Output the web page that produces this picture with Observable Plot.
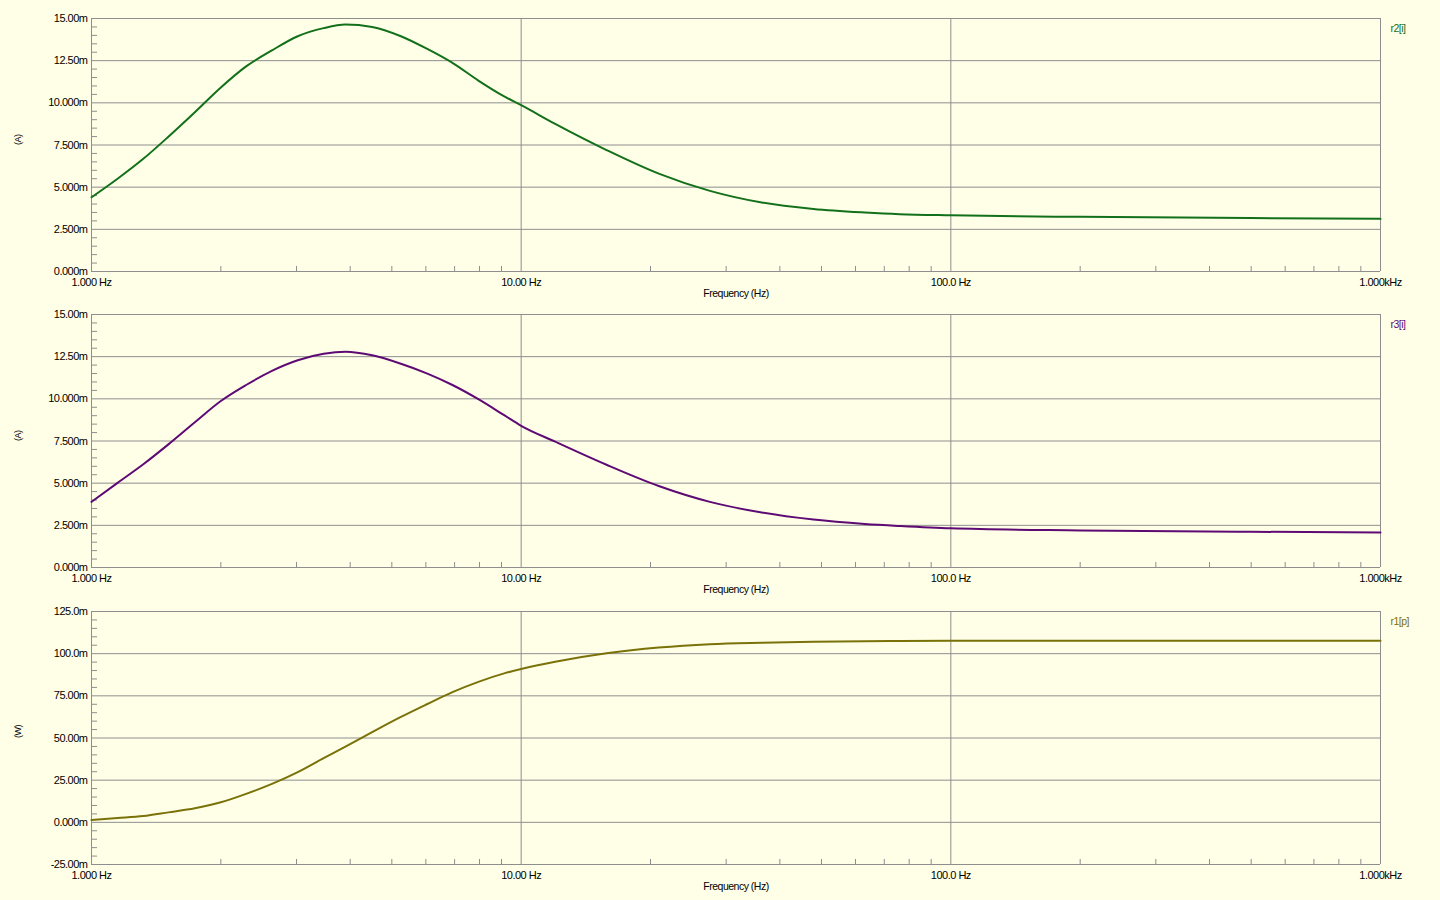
<!DOCTYPE html>
<html>
<head>
<meta charset="utf-8">
<script src="https://cdn.jsdelivr.net/npm/d3@7"></script>
<script src="https://cdn.jsdelivr.net/npm/@observablehq/plot@0.6"></script>
<style>
  html, body { margin: 0; padding: 0; background: #FFFFE8; }
  #chart { position: relative; width: 1440px; height: 900px; background: #FFFFE8; overflow: hidden; }
  #chart svg { position: absolute; left: 0; display: block; }
  #chart svg text { letter-spacing: -0.5px; }
</style>
</head>
<body>
<div id="chart"></div>
<script>
// ---- data ----
const frequency = [1, 1.15, 1.32, 1.51, 1.74, 2, 2.29, 2.63, 3.02, 3.47, 3.9, 4.5, 5.25, 6.03, 6.92, 7.95, 9.13, 10, 12, 15.8, 20.9, 27.5, 36.3, 47.9, 63.1, 76, 100, 200, 500, 1000];
// r2[i] current, mA
const r2Current = [4.40, 5.50, 6.68, 7.99, 9.44, 10.91, 12.16, 13.11, 13.95, 14.43, 14.64, 14.50, 13.95, 13.21, 12.37, 11.32, 10.38, 9.86, 8.75, 7.20, 5.80, 4.78, 4.09, 3.71, 3.50, 3.40, 3.33, 3.24, 3.17, 3.12];
// r3[i] current, mA
const r3Current = [3.89, 5.02, 6.12, 7.30, 8.61, 9.87, 10.82, 11.66, 12.29, 12.67, 12.79, 12.58, 12.08, 11.51, 10.82, 9.98, 9.03, 8.40, 7.46, 6.09, 4.83, 3.89, 3.26, 2.84, 2.58, 2.46, 2.32, 2.20, 2.12, 2.07];
// r1[p] power, mW
const r1Power = [1.39, 2.5, 3.7, 5.9, 8.33, 11.9, 16.9, 22.8, 29.8, 38.1, 44.9, 53.5, 62.5, 70.0, 77.2, 83.3, 88.3, 90.9, 95.2, 100.2, 103.6, 105.6, 106.5, 107.1, 107.4, 107.5, 107.6, 107.7, 107.7, 107.7];

const xTicks = [1, 10, 100, 1000];
const xTickLabels = ["1.000 Hz", "10.00 Hz", "100.0 Hz", "1.000kHz"];
const xMinorTicks = [2, 3, 4, 5, 6, 7, 8, 9, 20, 30, 40, 50, 60, 70, 80, 90, 200, 300, 400, 500, 600, 700, 800, 900];

const currentTicks = [0, 2.5, 5, 7.5, 10, 12.5, 15];
const currentTickLabels = ["0.000m", "2.500m", "5.000m", "7.500m", "10.000m", "12.50m", "15.00m"];
const powerTicks = [-25, 0, 25, 50, 75, 100, 125];
const powerTickLabels = ["-25.00m", "0.000m", "25.00m", "50.00m", "75.00m", "100.0m", "125.0m"];

const xAxisLabel = "Frequency (Hz)";

const panels = [
  {values: r2Current, name: "r2[i]", unit: "(A)", color: "#13701a", ticks: currentTicks, labels: currentTickLabels, top: 0},
  {values: r3Current, name: "r3[i]", unit: "(A)", color: "#5e0a74", ticks: currentTicks, labels: currentTickLabels, top: 296},
  {values: r1Power, name: "r1[p]", unit: "(W)", color: "#7a7208", ticks: powerTicks, labels: powerTickLabels, top: 593}
];

const gridColor = "#8e8e8e";
const W = 1440, H = 297, mL = 91, mR = 60, mT = 18, mB = 26;
const plotW = W - mL - mR, plotH = H - mT - mB;
const chart = document.getElementById("chart");

for (const p of panels) {
  const data = frequency.map((f, i) => ({f, v: p.values[i]}));
  const step = (p.ticks[1] - p.ticks[0]) / 5;
  const lo = p.ticks[0], hi = p.ticks[p.ticks.length - 1];
  const minorY = d3.range(0, Math.round((hi - lo) / step) + 1).map(k => lo + k * step)
    .filter((_, k) => k % 5 !== 0);

  const svg = Plot.plot({
    width: W, height: H,
    marginLeft: mL, marginRight: mR, marginTop: mT, marginBottom: mB,
    style: {background: "transparent", fontFamily: "'Liberation Sans', Arial, sans-serif", fontSize: "11px", color: "#000", overflow: "visible"},
    x: {type: "log", domain: [1, 1000], axis: null},
    y: {domain: [lo, hi], axis: null},
    marks: [
      Plot.ruleY(p.ticks, {stroke: gridColor, strokeWidth: 1}),
      Plot.ruleX(xTicks, {stroke: gridColor, strokeWidth: 1}),
      Plot.ruleY(minorY, {stroke: gridColor, insetRight: plotW - 6}),
      Plot.ruleX(xMinorTicks, {stroke: gridColor, insetTop: plotH - 5}),
      Plot.axisY(p.ticks, {anchor: "left", tickSize: 0, tickPadding: 4, label: null, fontSize: 11,
        tickFormat: d => p.labels[p.ticks.indexOf(d)], fill: "#000"}),
      Plot.axisX(xTicks, {anchor: "bottom", tickSize: 0, tickPadding: 7, label: null, fontSize: 11,
        tickFormat: d => xTickLabels[xTicks.indexOf(d)], fill: "#000"}),
      Plot.line(data, {x: "f", y: "v", stroke: p.color, strokeWidth: 2, curve: "monotone-x"}),
      Plot.text([xAxisLabel], {frameAnchor: "bottom", dy: 22, fill: "#000", lineAnchor: "middle", fontSize: 10.5}),
      Plot.text([p.unit], {frameAnchor: "left", dx: -73, rotate: -90, fill: "#000", fontSize: 9}),
      Plot.text([p.name], {frameAnchor: "top-right", dx: 10, dy: 6, textAnchor: "start", fill: p.color, fontSize: 10.5})
    ]
  });
  svg.style.top = p.top + "px";
  chart.appendChild(svg);
}
</script>
</body>
</html>
